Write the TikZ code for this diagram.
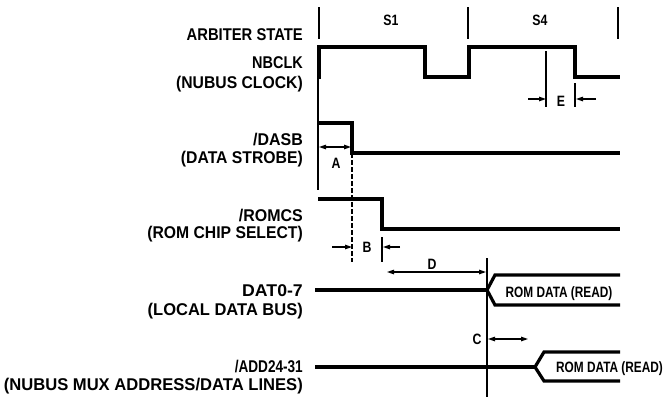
\documentclass[tikz,border=0pt]{standalone}
\usepackage{fontspec}
\setmainfont{Liberation Sans}
\usepackage{graphicx}
\usetikzlibrary{arrows.meta}
\newcommand\sx[2]{\scalebox{#1}[1]{#2}}
\tikzset{>={Triangle[length=7pt,width=4.5pt]}}
\begin{document}
\begin{tikzpicture}[x=1pt,y=-1pt,
  wave/.style={line width=3.2pt},
  hair/.style={line width=1.2pt},
  big/.style={font=\fontsize{17}{20}\selectfont\bfseries, inner sep=0pt, anchor=base east},
  sml/.style={font=\fontsize{15}{18}\selectfont\bfseries, inner sep=0pt, anchor=base}]
\useasboundingbox (0,0) rectangle (666,400);
\fill[white] (0,0) rectangle (666,400);
% signal names
\node[big] (arb) at (303,40) {\sx{0.87}{ARBITER STATE}};
\node[big] (nb1) at (303,68) {\sx{0.85}{NBCLK}};
\node[big] (nb2) at (303,88) {\sx{0.925}{(NUBUS CLOCK)}};
\node[big] (da1) at (303,145) {\sx{0.94}{/DASB}};
\node[big] (da2) at (303,163) {\sx{0.926}{(DATA STROBE)}};
\node[big] (ro1) at (303,221) {\sx{0.94}{/ROMCS}};
\node[big] (ro2) at (303,238) {\sx{0.925}{(ROM CHIP SELECT)}};
\node[big] (dt1) at (303,296) {\sx{1.04}{DAT0-7}};
\node[big] (dt2) at (303,315) {\sx{0.97}{(LOCAL DATA BUS)}};
\node[big] (ad1) at (303,372) {\sx{0.8}{/ADD24-31}};
\node[big] (ad2) at (303,390) {\sx{0.976}{(NUBUS MUX ADDRESS/DATA LINES)}};
% arbiter state
\draw[hair] (319,7) -- (319,39) (468,7) -- (468,39) (618,7) -- (618,39);
\node[sml] (s1) at (391,25) {\sx{0.82}{S1}};
\node[sml] (s4) at (540,25) {\sx{0.82}{S4}};
% NBCLK
\draw[wave] (319,79) -- (319,47) -- (425,47) -- (425,77) -- (469,77) -- (469,47) -- (575,47) -- (575,77) -- (620,77);
\draw[hair] (318,78) -- (318,190);
% E
\draw[hair] (546,51) -- (546,107) (575,83) -- (575,107);
\draw[hair,->] (528,99) -- (546,99);
\draw[hair,->] (596,99) -- (576,99);
\node[sml] (e) at (561,106) {\sx{0.82}{E}};
% DASB
\draw[wave] (318,123) -- (352,123) -- (352,153) -- (620,153);
\draw[hair,<->] (319,147) -- (351,147);
\node[sml] (a) at (336,168) {\sx{0.82}{A}};
\draw[hair,dash pattern=on 5pt off 2pt] (352,153) -- (352,262);
% ROMCS
\draw[wave] (318,199) -- (382,199) -- (382,229) -- (620,229);
\draw[hair] (382,237) -- (382,262);
\draw[hair,->] (332,247) -- (352,247);
\draw[hair,->] (400,247) -- (383,247);
\node[sml] (b) at (367,252) {\sx{0.82}{B}};
% D and reference line
\draw[hair] (487,258) -- (487,397);
\draw[hair,<->] (387,272) -- (486,272);
\node[sml] (d) at (432,269) {\sx{0.82}{D}};
% DAT0-7
\draw[wave] (315,290) -- (487,290);
\draw[wave] (620,275) -- (495,275) -- (487,290) -- (495,305) -- (620,305);
\node[sml] (rd1) at (559,297) {\sx{0.79}{ROM DATA (READ)}};
% C
\node[sml] (c) at (477,344) {\sx{0.82}{C}};
\draw[hair,<->] (488,339) -- (528,339);
% ADD24-31
\draw[wave] (315,367) -- (535,367);
\draw[wave] (620,352) -- (544,352) -- (535,367) -- (544,381) -- (620,381);
\node[sml] (rd2) at (609.5,372) {\sx{0.79}{ROM DATA (READ)}};
\end{tikzpicture}
\end{document}
